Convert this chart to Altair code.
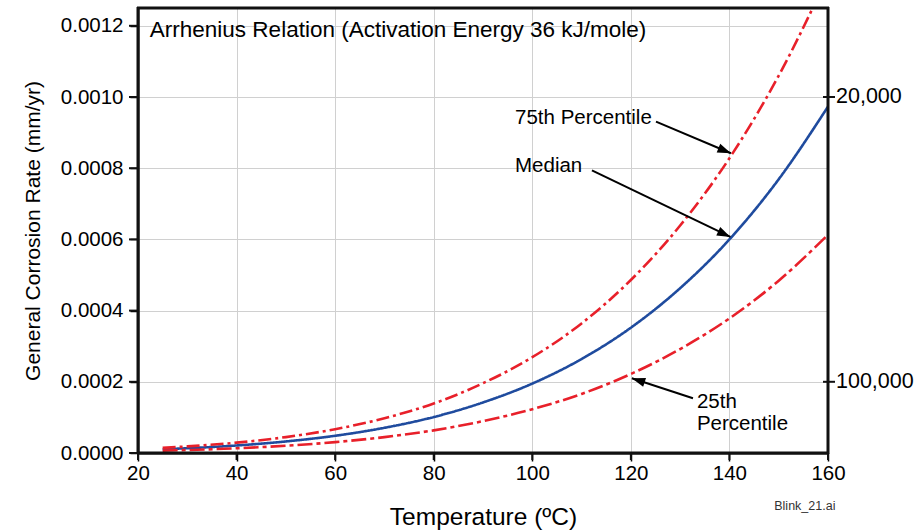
import altair as alt
import pandas as pd

# Temperature (°C) and general corrosion rate (mm/yr)
temps = [25, 30, 40, 50, 60, 70, 80, 90, 100, 110, 120, 130, 140, 150, 160]
median = [0.0000105, 0.0000134, 0.0000211, 0.0000324, 0.0000484, 0.0000708, 0.000101,
          0.000142, 0.000195, 0.000264, 0.000352, 0.000463, 0.000600, 0.000769, 0.000973]
p75 = [0.0000145, 0.0000185, 0.0000291, 0.0000447, 0.0000668, 0.0000977, 0.000139,
       0.000196, 0.000269, 0.000364, 0.000486, 0.000639, 0.000828, 0.00106, 0.00134]
p25 = [0.0000066, 0.0000084, 0.0000133, 0.0000204, 0.0000305, 0.0000446, 0.0000636,
       0.0000895, 0.000123, 0.000166, 0.000222, 0.000292, 0.000378, 0.000484, 0.000613]

series_names = ["Median", "75th Percentile", "25th Percentile"]

x_ticks = [20, 40, 60, 80, 100, 120, 140, 160]
y_ticks = [0, 0.0002, 0.0004, 0.0006, 0.0008, 0.001, 0.0012]
x_range = [20, 160]
y_range = [0, 0.00125]

# annotation labels
label_text = ["75th Percentile", "Median", "25th", "Percentile"]
label_x = [96.5, 96.5, 133.4, 133.4]
label_y = [0.000942, 0.000805, 0.000142, 0.0000815]

# arrows (start -> end) in data units, head angle in degrees
arrow_x0 = [125.1, 112.1, 132.6]
arrow_y0 = [0.000931, 0.000794, 0.000154]
arrow_x1 = [140.3, 140.2, 120.2]
arrow_y1 = [0.000842, 0.000607, 0.000210]
arrow_angle = [112, 115, 288]

# right-hand scale labels
right_ticks = [0.001, 0.0002]
right_labels = ["20,000", "100,000"]

FONT = "Liberation Sans"

rows = []
for name, vals in zip(series_names, [median, p75, p25]):
    for t, v in zip(temps, vals):
        rows.append({"T": t, "rate": v, "series": name})
df = pd.DataFrame(rows)

xscale = alt.Scale(domain=x_range, nice=False, zero=False)
yscale = alt.Scale(domain=y_range, nice=False)

x_axis = alt.Axis(values=x_ticks, title="Temperature (ºC)", labelFlush=False,
                  labelFontSize=20.5, titleFontSize=24.5, labelPadding=2, titlePadding=22)
y_axis = alt.Axis(values=y_ticks, format=".4f", labelFlush=False,
                  title="General Corrosion Rate (mm/yr)",
                  labelFontSize=20.5, titleFontSize=21, labelPadding=7, titlePadding=17)

lines = alt.Chart(df).mark_line(strokeWidth=2.6, clip=True, interpolate="monotone").encode(
    x=alt.X("T:Q", scale=xscale, axis=x_axis),
    y=alt.Y("rate:Q", scale=yscale, axis=y_axis),
    color=alt.Color("series:N", scale=alt.Scale(domain=series_names,
                    range=["#1f4b9e", "#e8202a", "#e8202a"]), legend=None),
    strokeDash=alt.StrokeDash("series:N", scale=alt.Scale(domain=series_names,
                    range=[[1, 0], [13, 4, 3, 4], [15, 4, 4, 4]]), legend=None),
    order=alt.Order("T:Q"),
)

# plot frame drawn from the axis extents
vx = pd.DataFrame({"T": x_range})
vy = pd.DataFrame({"rate": y_range})
frame_v = alt.Chart(vx).mark_rule(color="#111111", strokeWidth=3).encode(
    x="T:Q", y=alt.value(-1), y2=alt.value(446))
frame_h = alt.Chart(vy).mark_rule(color="#111111", strokeWidth=3).encode(
    y="rate:Q", x=alt.value(-1), x2=alt.value(691))

# tick marks
tx = pd.DataFrame({"T": x_ticks})
ty = pd.DataFrame({"rate": y_ticks})
ticks_x = alt.Chart(tx).mark_rule(color="#111111", strokeWidth=2).encode(
    x="T:Q", y=alt.value(445), y2=alt.value(452))
ticks_y = alt.Chart(ty).mark_rule(color="#111111", strokeWidth=2).encode(
    y="rate:Q", x=alt.value(-9), x2=alt.value(0))

right_df = pd.DataFrame({"rate": right_ticks, "t": right_labels})
right_ticks_m = alt.Chart(right_df).mark_rule(color="#111111", strokeWidth=2).encode(
    y=alt.Y("rate:Q"),
    x=alt.value(685), x2=alt.value(697),
)
right_text = alt.Chart(right_df).mark_text(align="left", baseline="middle", fontSize=21.5,
                                           font=FONT, color="black").encode(
    y=alt.Y("rate:Q"),
    x=alt.value(698),
    text="t:N",
)

title_df = pd.DataFrame({"T": [22.4], "rate": [0.001187],
                         "t": ["Arrhenius Relation (Activation Energy 36 kJ/mole)"]})
title_txt = alt.Chart(title_df).mark_text(align="left", baseline="middle", fontSize=22.5,
                                          font=FONT, color="black").encode(
    x="T:Q", y="rate:Q", text="t:N",
)

lab_df = pd.DataFrame({"T": label_x, "rate": label_y, "t": label_text})
labels = alt.Chart(lab_df).mark_text(align="left", baseline="middle", fontSize=20.5,
                                     font=FONT, color="black").encode(
    x="T:Q", y="rate:Q", text="t:N",
)

arr_df = pd.DataFrame({"T": arrow_x0, "rate": arrow_y0, "T2": arrow_x1, "rate2": arrow_y1,
                       "a": arrow_angle})
shafts = alt.Chart(arr_df).mark_rule(color="black", strokeWidth=2).encode(
    x="T:Q", y="rate:Q", x2="T2:Q", y2="rate2:Q",
)
heads = alt.Chart(arr_df).mark_point(shape="M0,0L-0.7,2L0.7,2Z", filled=True, color="black",
                                     opacity=1, size=180).encode(
    x="T2:Q", y="rate2:Q",
    angle=alt.Angle("a:Q", scale=None),
)

blink_df = pd.DataFrame({"T": [155.3], "t": ["Blink_21.ai"]})
blink = alt.Chart(blink_df).mark_text(fontSize=12.5, font=FONT, color="#333333",
                                      baseline="middle").encode(
    x="T:Q",
    y=alt.value(498),
    text="t:N",
)

chart = alt.layer(lines, frame_v, frame_h, ticks_x, ticks_y, right_ticks_m, right_text,
                  title_txt, labels, shafts, heads, blink).properties(
    width=690, height=445,
    background="white",
    autosize=alt.AutoSizeParams(type="none"),
    padding={"left": 138, "top": 8, "right": 90, "bottom": 79},
).configure_view(
    stroke="black", strokeWidth=2
).configure_axis(
    domain=True, ticks=True, domainColor="black", domainWidth=2,
    tickColor="black", tickWidth=1.5, tickSize=8,
    labelFont=FONT, titleFont=FONT, labelColor="black", titleColor="black",
    titleFontWeight="normal", gridColor="#d0d0d0", gridWidth=1,
)

chart.save("out.html", embed_options={"renderer": "svg", "actions": False})
